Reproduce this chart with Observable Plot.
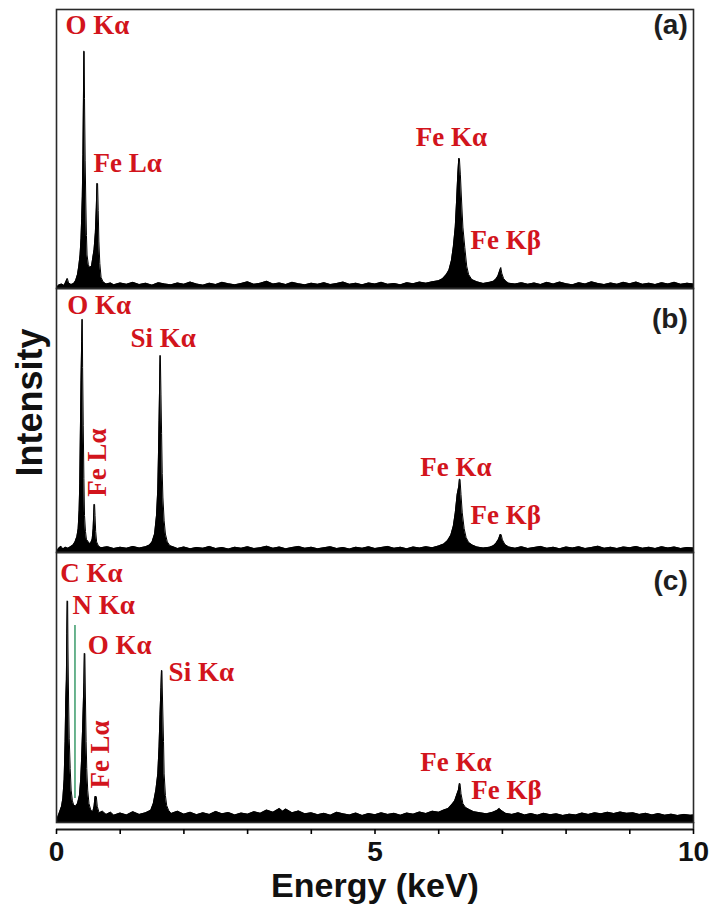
<!DOCTYPE html>
<html><head><meta charset="utf-8">
<script src="https://cdn.jsdelivr.net/npm/d3@7"></script>
<script src="https://cdn.jsdelivr.net/npm/@observablehq/plot@0.6"></script>
<style>
body{margin:0;background:#fff;}
#wrap{position:relative;width:709px;height:906px;background:#fff;overflow:hidden;}
#wrap svg{position:absolute;left:0;}
</style></head><body><div id="wrap"></div>
<script>
// ---- Data: EDS spectra, [energy keV, intensity % of panel] ----
const specA = [[0,0],[0.03,1.2],[0.08,1.6],[0.12,1.1],[0.15,2.6],[0.17,3.6],[0.19,2.0],[0.23,1.4],[0.27,1.8],[0.30,2.8],[0.33,5],[0.35,8],[0.37,12],[0.385,18],[0.395,25],[0.405,33],[0.415,48],[0.423,68],[0.428,85],[0.435,85],[0.44,68],[0.45,46],[0.46,31],[0.47,19],[0.48,12],[0.50,8.5],[0.52,7.5],[0.55,8],[0.57,11],[0.59,14],[0.61,20],[0.625,29],[0.635,37.6],[0.645,37.6],[0.655,28],[0.665,17],[0.68,9],[0.70,4],[0.73,2.4],[0.78,1.6],[0.85,2.0],[0.9,1.3],[1.0,2.0],[1.1,1.5],[1.2,2.2],[1.3,1.4],[1.4,1.9],[1.5,1.2],[1.6,2.1],[1.7,1.6],[1.8,1.3],[1.9,2.0],[2.0,1.5],[2.1,2.3],[2.2,1.6],[2.3,1.2],[2.4,1.9],[2.5,1.4],[2.6,2.2],[2.7,1.7],[2.8,1.3],[2.9,1.8],[3.0,2.4],[3.1,1.5],[3.2,1.9],[3.3,2.6],[3.4,1.6],[3.5,2.0],[3.6,1.4],[3.7,2.2],[3.8,1.7],[3.9,1.3],[4.0,1.9],[4.1,1.5],[4.2,2.1],[4.3,1.4],[4.4,1.8],[4.5,2.3],[4.6,1.5],[4.7,1.9],[4.8,1.3],[4.9,2.0],[5.0,1.6],[5.1,2.2],[5.2,1.5],[5.3,1.8],[5.4,1.3],[5.5,2.1],[5.6,1.7],[5.7,2.3],[5.8,1.9],[5.9,2.4],[6.0,2.8],[6.06,3.5],[6.12,5],[6.16,6.5],[6.2,10],[6.23,15],[6.26,22],[6.28,31],[6.30,41],[6.315,46.6],[6.325,46.6],[6.34,41],[6.36,31],[6.38,22],[6.41,14.7],[6.44,8],[6.47,5],[6.52,3.2],[6.6,2.4],[6.7,1.8],[6.8,2.2],[6.86,2.6],[6.9,3.4],[6.93,4.5],[6.96,6.5],[6.975,7.5],[6.99,5.5],[7.02,3.5],[7.06,2.5],[7.1,1.9],[7.2,1.6],[7.3,2.1],[7.4,1.5],[7.5,2.0],[7.6,1.4],[7.7,2.2],[7.8,1.6],[7.9,2.3],[8.0,1.7],[8.1,1.3],[8.2,2.1],[8.3,1.6],[8.4,2.4],[8.5,1.8],[8.6,1.4],[8.7,2.0],[8.8,1.5],[8.9,2.2],[9.0,1.7],[9.1,2.3],[9.2,1.5],[9.3,1.9],[9.4,1.4],[9.5,2.1],[9.6,1.6],[9.7,2.2],[9.8,1.5],[9.9,1.9],[10.0,1.6]];

const specB = [[0,0],[0.03,1.5],[0.07,2.4],[0.1,1.3],[0.14,2.0],[0.18,1.6],[0.22,2.2],[0.26,2.8],[0.29,4],[0.32,6],[0.34,9],[0.355,16],[0.365,26],[0.375,46],[0.385,65],[0.395,80],[0.400,88.3],[0.405,88.3],[0.41,70],[0.42,48],[0.43,28],[0.44,14],[0.455,8],[0.47,5],[0.50,4],[0.53,3.2],[0.56,5],[0.575,9],[0.585,15],[0.59,18.2],[0.598,18.2],[0.605,14],[0.615,8],[0.63,4],[0.66,2.4],[0.7,1.8],[0.8,2.2],[0.9,1.5],[1.0,2.0],[1.1,1.6],[1.2,2.3],[1.3,1.7],[1.4,2.2],[1.46,2.8],[1.5,4],[1.54,7],[1.57,14],[1.59,24],[1.60,36],[1.61,50],[1.62,65],[1.625,74.6],[1.63,74.6],[1.64,60],[1.65,45],[1.66,30],[1.67,21],[1.69,12],[1.71,7],[1.74,4],[1.78,2.6],[1.85,2.0],[1.9,1.5],[2.0,2.1],[2.1,1.4],[2.2,1.9],[2.3,1.6],[2.4,2.3],[2.5,1.5],[2.6,1.9],[2.7,1.3],[2.8,2.0],[2.9,1.6],[3.0,2.2],[3.1,1.5],[3.2,1.8],[3.3,2.4],[3.4,1.6],[3.5,2.1],[3.6,1.4],[3.7,1.9],[3.8,2.3],[3.9,1.6],[4.0,2.0],[4.1,1.4],[4.2,1.8],[4.3,2.2],[4.4,1.5],[4.5,1.9],[4.6,1.3],[4.7,2.0],[4.8,1.6],[4.9,2.2],[5.0,1.5],[5.1,1.9],[5.2,2.3],[5.3,1.6],[5.4,2.0],[5.5,1.4],[5.6,2.1],[5.7,1.7],[5.8,2.2],[5.9,1.8],[6.0,2.5],[6.08,3.2],[6.14,4.5],[6.19,6.5],[6.23,10],[6.26,15],[6.29,22],[6.315,25],[6.325,27.7],[6.335,27.7],[6.35,22],[6.37,15],[6.40,9],[6.43,5.7],[6.47,3.8],[6.53,2.8],[6.6,2.1],[6.7,1.7],[6.8,2.0],[6.86,2.6],[6.9,3.5],[6.94,5],[6.965,6.8],[6.98,6.8],[7.0,4.8],[7.04,3.0],[7.1,2.1],[7.2,1.6],[7.3,2.2],[7.4,1.5],[7.5,1.9],[7.6,2.3],[7.7,1.6],[7.8,2.0],[7.9,1.4],[8.0,2.1],[8.1,1.7],[8.2,2.2],[8.3,1.5],[8.4,1.9],[8.5,2.4],[8.6,1.6],[8.7,2.0],[8.8,1.5],[8.9,2.1],[9.0,1.8],[9.1,2.3],[9.2,1.6],[9.3,2.0],[9.4,1.5],[9.5,2.2],[9.6,1.7],[9.7,2.1],[9.8,1.5],[9.9,1.9],[10.0,1.7]];

const specC = [[0,0],[0.02,2],[0.05,4],[0.08,6],[0.10,9],[0.12,16],[0.135,30],[0.145,45],[0.155,53],[0.162,70],[0.168,82],[0.175,82],[0.18,65],[0.19,45],[0.20,31],[0.215,20],[0.23,12],[0.25,8],[0.27,6.5],[0.30,6],[0.33,7],[0.36,10],[0.38,16],[0.395,24],[0.41,35],[0.42,43],[0.43,52],[0.437,62.6],[0.445,62.6],[0.455,45],[0.465,30],[0.475,20],[0.49,12],[0.51,7],[0.54,4.5],[0.57,4],[0.59,6],[0.605,9.6],[0.625,9.6],[0.64,6],[0.67,3.5],[0.72,4.2],[0.78,3.0],[0.85,3.8],[0.9,2.7],[1.0,3.5],[1.1,2.8],[1.2,4.0],[1.3,3.0],[1.4,3.6],[1.48,4.5],[1.52,7],[1.56,12],[1.59,18],[1.61,28],[1.625,40],[1.64,50],[1.648,56.3],[1.655,56.3],[1.665,45],[1.68,30],[1.69,18],[1.71,10],[1.73,6.3],[1.76,4.5],[1.8,3.3],[1.9,4.2],[2.0,3.1],[2.1,3.8],[2.2,2.9],[2.3,3.6],[2.4,3.0],[2.5,4.1],[2.6,3.2],[2.7,3.7],[2.8,2.8],[2.9,3.5],[3.0,3.1],[3.1,4.0],[3.2,3.4],[3.3,4.6],[3.4,3.8],[3.5,5.2],[3.55,4.2],[3.6,5.0],[3.7,3.6],[3.8,4.3],[3.9,3.2],[4.0,3.6],[4.1,2.9],[4.2,3.4],[4.3,2.7],[4.4,3.8],[4.5,3.2],[4.6,2.8],[4.7,3.5],[4.8,2.6],[4.9,3.3],[5.0,2.9],[5.1,3.6],[5.2,3.0],[5.3,3.4],[5.4,2.7],[5.5,3.5],[5.6,3.1],[5.7,3.9],[5.8,3.3],[5.9,4.2],[6.0,3.8],[6.08,4.6],[6.15,5.2],[6.2,6.5],[6.25,8],[6.29,10.7],[6.31,12],[6.325,14.4],[6.335,14.4],[6.35,10.7],[6.38,7],[6.42,5.6],[6.48,4.8],[6.55,4.0],[6.65,3.6],[6.75,3.2],[6.85,3.8],[6.92,4.5],[6.95,5.2],[6.98,4.5],[7.05,3.4],[7.15,3.0],[7.25,3.6],[7.35,2.8],[7.45,3.3],[7.55,2.7],[7.65,3.4],[7.75,2.9],[7.85,3.2],[7.95,2.6],[8.05,3.1],[8.15,2.8],[8.25,3.5],[8.35,3.0],[8.45,3.6],[8.55,3.2],[8.65,3.8],[8.75,3.3],[8.85,3.9],[8.95,3.4],[9.05,3.6],[9.15,3.0],[9.25,3.4],[9.35,2.8],[9.45,3.3],[9.55,2.7],[9.65,3.1],[9.75,2.6],[9.85,3.0],[9.95,2.7],[10.0,2.8]];

// N Kα marker line in panel (c): [energy, low, high]
const nKaLine = [[0.29, 8.9, 73]];

// Peak labels: [text, energy, intensity]
const labelsA = [["O Kα",0.14,94.3],["Fe Lα",0.58,44.8],["Fe Kα",5.64,54.1],["Fe Kβ",6.50,17.2]];
const labelsB = [["O Kα",0.17,93.6],["Si Kα",1.16,81.1],["Fe Kα",5.71,32.2],["Fe Kβ",6.50,14.0]];
const labelsC = [["C Kα",0.06,92.2],["N Kα",0.25,80.4],["O Kα",0.49,65.6],["Si Kα",1.76,55.6],["Fe Kα",5.71,22.2],["Fe Kβ",6.51,11.9]];
// rotated labels: [text, energy, intensity]
const rotB = [["Fe Lα",0.64,34.1]];
const rotC = [["Fe Lα",0.69,25.2]];
// panel tags: [text, energy, intensity]
const tagA = [["(a)",9.91,94.6]];
const tagB = [["(b)",9.91,88.6]];
const tagC = [["(c)",9.91,89.6]];

const xTicks = [0,1,2,3,4,5,6,7,8,9,10];
const xTickLabels = ["0","","","","","5","","","","","10"];

// ---- Rendering ----
const rows = a => a.map(([e, v]) => ({e, v}));
const lab = a => a.map(([t, e, v]) => ({t, e, v}));
const RED = "#d2141c";
const SERIF = "Liberation Serif, Times New Roman, serif";
const SANS = "Liberation Sans, Arial, sans-serif";

function panel({spec, labels, rot = [], tag, extra = [], top, height, mt, mb}) {
  const p = Plot.plot({
    width: 709, height, marginLeft: 56, marginRight: 16, marginTop: mt, marginBottom: mb,
    x: {domain: [0, 10], axis: null},
    y: {domain: [0, 100], axis: null},
    style: {background: "transparent", overflow: "visible"},
    marks: [
      Plot.areaY(rows(spec), {x: "e", y: "v", fill: "#000", curve: "linear"}),
      Plot.lineY(rows(spec), {x: "e", y: "v", stroke: "#000", strokeWidth: 1}),
      ...extra,
      Plot.frame({stroke: "#2a2a2a", strokeWidth: 1.6}),
      Plot.text(lab(labels), {x: "e", y: "v", text: "t", textAnchor: "start", lineAnchor: "middle",
        fill: RED, fontFamily: SERIF, fontWeight: "bold", fontSize: 27}),
      Plot.text(lab(rot), {x: "e", y: "v", text: "t", textAnchor: "middle", lineAnchor: "middle", rotate: -90,
        fill: RED, fontFamily: SERIF, fontWeight: "bold", fontSize: 27}),
      Plot.text(lab(tag), {x: "e", y: "v", text: "t", textAnchor: "end", lineAnchor: "middle",
        fill: "#1e1e1e", fontFamily: SANS, fontWeight: "bold", fontSize: 28})
    ]
  });
  p.style.top = top + "px";
  return p;
}

const wrap = document.getElementById("wrap");
wrap.appendChild(panel({spec: specA, labels: labelsA, tag: tagA, top: 0, height: 290, mt: 9, mb: 2}));
wrap.appendChild(panel({spec: specB, labels: labelsB, rot: rotB, tag: tagB, top: 286, height: 268, mt: 2, mb: 2,
  extra: [Plot.text(["Intensity"], {frameAnchor: "left", dx: -26, dy: -18, rotate: -90, textAnchor: "middle",
    lineAnchor: "middle", fill: "#111", fontFamily: SANS, fontWeight: "bold", fontSize: 36})]}));
wrap.appendChild(panel({spec: specC, labels: labelsC, rot: rotC, tag: tagC, top: 550, height: 274, mt: 2, mb: 2,
  extra: [Plot.ruleX(nKaLine.map(([e, lo, hi]) => ({e, lo, hi})), {x: "e", y1: "lo", y2: "hi", stroke: "#46a173", strokeWidth: 1.6})]}));

const axis = Plot.plot({
  width: 709, height: 84, marginLeft: 56, marginRight: 16, marginTop: 0, marginBottom: 77,
  x: {domain: [0, 10]},
  y: {domain: [0, 1], axis: null},
  style: {background: "transparent", overflow: "visible"},
  marks: [
    Plot.ruleY([0], {stroke: "#1a1a1a", strokeWidth: 2}),
    Plot.axisX(xTicks, {anchor: "bottom", tickSize: 5, tickPadding: 7, strokeWidth: 1.6,
      tickFormat: d => xTickLabels[xTicks.indexOf(d)], fontSize: 28, fontWeight: "bold",
      fontFamily: SANS, fill: "#111", label: null}),
    Plot.ruleX([10], {y1: 0, y2: 1, stroke: "#2a2a2a", strokeWidth: 1.6}),
    Plot.text(["Energy (keV)"], {frameAnchor: "bottom", dy: 57, lineAnchor: "middle", textAnchor: "middle",
      fill: "#111", fontFamily: SANS, fontWeight: "bold", fontSize: 34})
  ]
});
axis.style.top = "822px";
wrap.appendChild(axis);
</script>
</body></html>
